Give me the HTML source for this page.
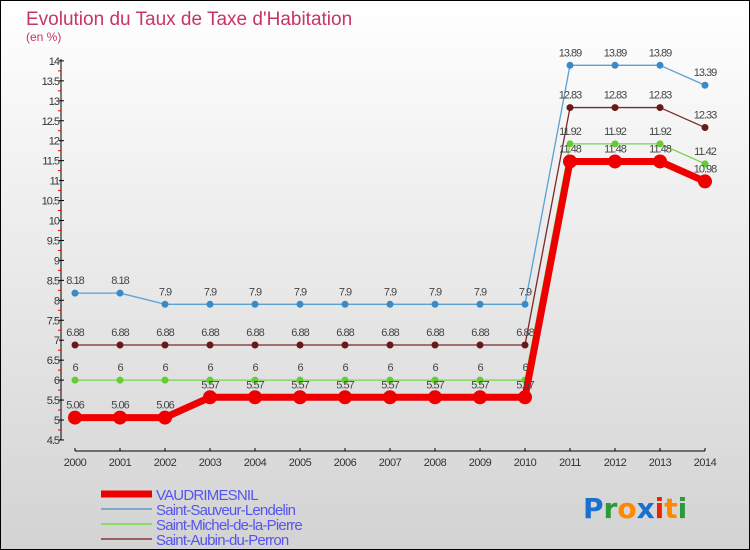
<!DOCTYPE html>
<html><head><meta charset="utf-8"><style>
body{margin:0;}
#wrap{position:relative;width:748px;height:548px;border:1px solid #000;background:linear-gradient(#ffffff,#d3d3d3);font-family:"Liberation Sans",sans-serif;overflow:hidden}
</style></head><body>
<div id="wrap">
<svg id="chart" width="748" height="548"></svg>
</div>
<script>
const years=[2000,2001,2002,2003,2004,2005,2006,2007,2008,2009,2010,2011,2012,2013,2014];
const vaud=[5.06,5.06,5.06,5.57,5.57,5.57,5.57,5.57,5.57,5.57,5.57,11.48,11.48,11.48,10.98];
const sauveur=[8.18,8.18,7.9,7.9,7.9,7.9,7.9,7.9,7.9,7.9,7.9,13.89,13.89,13.89,13.39];
const michel=[6,6,6,6,6,6,6,6,6,6,6,11.92,11.92,11.92,11.42];
const aubin=[6.88,6.88,6.88,6.88,6.88,6.88,6.88,6.88,6.88,6.88,6.88,12.83,12.83,12.83,12.33];
const yTicks=[4.5,5,5.5,6,6.5,7,7.5,8,8.5,9,9.5,10,10.5,11,11.5,12,12.5,13,13.5,14];
const ns="http://www.w3.org/2000/svg";
const svg=document.getElementById('chart');
const X=i=>74+45*i;
const Y=v=>419-(v-5)*39.9;
function el(t,a,p){const e=document.createElementNS(ns,t);for(const k in a)e.setAttribute(k,a[k]);(p||svg).appendChild(e);return e;}
function txt(x,y,s,a){const e=el('text',Object.assign({x:x,y:y},a));e.textContent=s;return e;}
let t=txt(25,24,"Evolution du Taux de Taxe d'Habitation",{fill:'#c8336a','font-size':19});

t=txt(25,40,"(en %)",{fill:'#c8336a','font-size':12});

let ax=el('line',{x1:60,y1:Y(14)-2,x2:60,y2:Y(4.5),stroke:'#000'});

yTicks.forEach((v,i)=>{el('line',{x1:58,x2:63,y1:Y(v),y2:Y(v),stroke:'#000'});
 if(i<yTicks.length-1)el('line',{x1:57,x2:60,y1:Y(v+0.25),y2:Y(v+0.25),stroke:'#e00'});
 const l=txt(58,Y(v)+4,String(v),{'text-anchor':'end','font-size':11,fill:'#333','letter-spacing':'-1'});
 });
ax=el('line',{x1:74,y1:450,x2:X(14),y2:450,stroke:'#000'});

years.forEach((yr,i)=>{el('line',{x1:X(i),x2:X(i),y1:447,y2:450,stroke:'#000'});
 const l=txt(X(i),465,String(yr),{'text-anchor':'middle','font-size':11,fill:'#333','letter-spacing':'-0.5'});
 });
function series(d,col,w,r,name,fillDot){
 const g=el('g',{});
 el('polyline',{points:d.map((v,i)=>X(i)+','+Y(v)).join(' '),fill:'none',stroke:col,'stroke-width':w,'stroke-linejoin':'round'},g);
 d.forEach((v,i)=>{const c=el('circle',{cx:X(i),cy:Y(v),r:r,fill:fillDot},g);
  
  const l=txt(X(i),Y(v)-9,String(v),{'text-anchor':'middle','font-size':11,fill:'#444','letter-spacing':'-1'},g);
  });
}
series(sauveur,'#5aa0d2',1.3,3.5,'series-saint-sauveur','#3b8ac6');
series(aubin,'#7a2a2a',1.3,3.5,'series-saint-aubin','#6a1818');
series(michel,'#77d450',1.3,3.5,'series-saint-michel','#66cc33');
series(vaud,'#ee0000',7,7,'series-vaudrimesnil','#ee0000');
const leg=[['VAUDRIMESNIL','#ee0000',7],['Saint-Sauveur-Lendelin','#7aaac8',2],['Saint-Michel-de-la-Pierre','#88dd66',2],['Saint-Aubin-du-Perron','#9a6060',2]];
leg.forEach((L,i)=>{const y=493+i*15;const g=el('g',{});
 el('line',{x1:100,x2:151,y1:y,y2:y,stroke:L[1],'stroke-width':L[2]},g);
 txt(155,y+6,L[0],{'font-size':15,fill:'#5555ee','letter-spacing':'-0.8'},g);});
const logo=txt(582,517,'',{'font-size':28,'font-weight':'bold','font-family':'"DejaVu Sans",sans-serif'});

[['P','#1a6fd0'],['r','#2a9a3a'],['o','#ff8800'],['x','#1a6fd0'],['i','#ee2200'],['t','#ff8800'],['i','#2a9a3a']].forEach(p=>{const s=el('tspan',{fill:p[1]},logo);s.textContent=p[0];});
</script>
</body></html>
